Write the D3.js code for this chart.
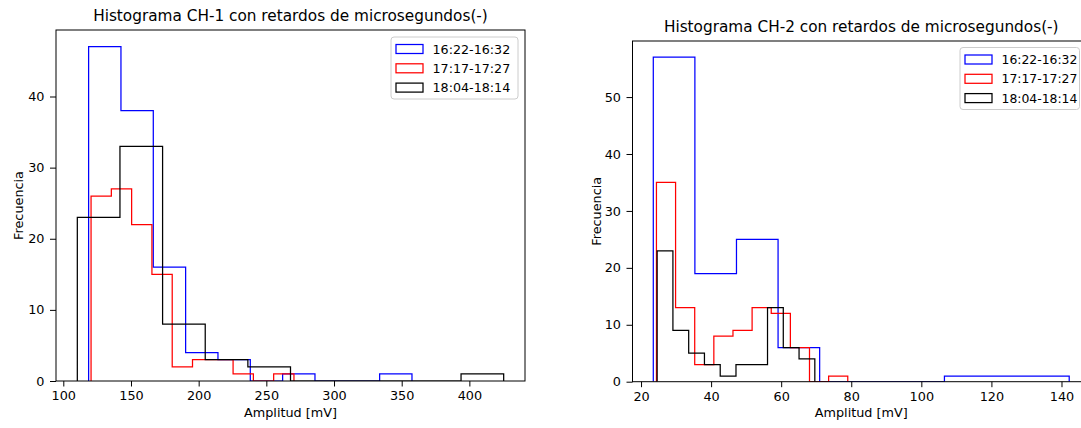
<!DOCTYPE html>
<html>
<head>
<meta charset="utf-8">
<script src="https://cdn.jsdelivr.net/npm/d3@7"></script>
<style>
  body { margin: 0; background: #fff; }
  svg { display: block; font-family: "DejaVu Sans", sans-serif; }
</style>
</head>
<body>
<svg id="chart" width="1081" height="428"></svg>
<script>
const seriesNames = ["16:22-16:32", "17:17-17:27", "18:04-18:14"]
const seriesColors = ["blue", "red", "black"]

// CH-1: bin range (min, max) and 10 bin counts per series
const ch1Ranges = [[118.7, 357.6], [120.5, 270.4], [110.35, 425.35]]
const ch1Counts = [
    [47, 38, 16, 4, 3, 0, 1, 0, 0, 1],
    [26, 27, 22, 15, 2, 3, 3, 1, 0, 1],
    [23, 33, 8, 3, 2, 0, 0, 0, 0, 1]
]
const ch1XTicks = [100, 150, 200, 250, 300, 350, 400]
const ch1YTicks = [0, 10, 20, 30, 40]

// CH-2
const ch2Ranges = [[23.5, 142.2], [24.4, 79.0], [24.6, 69.6]]
const ch2Counts = [
    [57, 19, 25, 6, 0, 0, 0, 1, 1, 1],
    [35, 13, 3, 8, 9, 13, 12, 6, 0, 1],
    [23, 9, 5, 3, 1, 3, 3, 13, 6, 4]
]
const ch2XTicks = [20, 40, 60, 80, 100, 120, 140]
const ch2YTicks = [0, 10, 20, 30, 40, 50]

const svg = d3.select("#chart")
const small = 12.8

function binEdges(range, n) {
    const step = (range[1] - range[0]) / n
    return d3.range(n + 1).map(i => range[0] + i * step)
}

function drawPanel(p) {
    const lo = d3.min(p.ranges, r => r[0])
    const hi = d3.max(p.ranges, r => r[1])
    const pad = (hi - lo) * 0.05
    const ymax = d3.max(p.counts, c => d3.max(c)) * 1.05

    const x = d3.scaleLinear().domain([lo - pad, hi + pad]).range([p.left, p.right])
    const y = d3.scaleLinear().domain([0, ymax]).range([p.bottom, p.top])

    const g = svg.append("g")
    const clipId = "clip" + p.id
    g.append("clipPath").attr("id", clipId)
        .append("rect")
        .attr("x", p.left).attr("y", p.top)
        .attr("width", p.right - p.left).attr("height", p.bottom - p.top)

    const line = d3.line().x(d => x(d[0])).y(d => y(d[1]))

    p.counts.forEach((counts, si) => {
        const edges = binEdges(p.ranges[si], counts.length)
        const pts = [[edges[0], 0]]
        counts.forEach((c, i) => {
            pts.push([edges[i], c])
            pts.push([edges[i + 1], c])
        })
        pts.push([edges[edges.length - 1], 0])
        g.append("path")
            .attr("clip-path", `url(#${clipId})`)
            .attr("d", line(pts))
            .attr("fill", "none")
            .attr("stroke", seriesColors[si])
            .attr("stroke-width", 1.25)
    })

    // axes
    const xAxis = g.append("g")
        .attr("transform", `translate(0,${p.bottom})`)
        .call(d3.axisBottom(x).tickValues(p.xTicks).tickSize(5.5).tickPadding(4.5).tickFormat(d3.format("d")))
    const yAxis = g.append("g")
        .attr("transform", `translate(${p.left},0)`)
        .call(d3.axisLeft(y).tickValues(p.yTicks).tickSize(6).tickPadding(5.5).tickFormat(d3.format("d")))
    ;[xAxis, yAxis].forEach(a => {
        a.select(".domain").remove()
        a.selectAll("text").attr("font-size", small).attr("fill", "#000").attr("font-family", "DejaVu Sans")
        a.selectAll("line").attr("stroke", "#000").attr("stroke-width", 1)
    })

    // frame
    g.append("rect")
        .attr("x", p.left).attr("y", p.top)
        .attr("width", p.right - p.left).attr("height", p.bottom - p.top)
        .attr("fill", "none").attr("stroke", "#000").attr("stroke-width", 1)

    g.append("text")
        .attr("x", (p.left + p.right) / 2).attr("y", p.top - 9)
        .attr("text-anchor", "middle").attr("font-size", 15.3)
        .text(p.title)

    g.append("text")
        .attr("x", (p.left + p.right) / 2).attr("y", 417)
        .attr("text-anchor", "middle").attr("font-size", small)
        .text("Amplitud [mV]")

    g.append("text")
        .attr("transform", `translate(${p.ylabelX},${(p.top + p.bottom) / 2}) rotate(-90)`)
        .attr("text-anchor", "middle").attr("font-size", small)
        .text("Frecuencia")

    // legend
    const lg = g.append("g").attr("transform", `translate(${p.legend[0]},${p.legend[1]})`)
    lg.append("rect")
        .attr("width", p.legend[2]).attr("height", 62).attr("rx", 3)
        .attr("fill", "#fff").attr("fill-opacity", 0.8)
        .attr("stroke", "#ccc")
    seriesNames.forEach((name, i) => {
        const row = lg.append("g").attr("transform", `translate(0,${12 + i * 19.3})`)
        row.append("rect")
            .attr("x", 5).attr("y", -4.5).attr("width", 27).attr("height", 9)
            .attr("fill", "none").attr("stroke", seriesColors[i]).attr("stroke-width", 1.25)
        row.append("text")
            .attr("x", 41.5).attr("y", 4.6).attr("font-size", p.legend[3])
            .text(name)
    })
}

drawPanel({
    id: 1, left: 56, right: 525, top: 30, bottom: 381,
    ranges: ch1Ranges, counts: ch1Counts, xTicks: ch1XTicks, yTicks: ch1YTicks,
    title: "Histograma CH-1 con retardos de microsegundos(-)",
    ylabelX: 22.5, legend: [391, 37, 127, 12.7]
})

drawPanel({
    id: 2, left: 632.5, right: 1090, top: 41, bottom: 381.7,
    ranges: ch2Ranges, counts: ch2Counts, xTicks: ch2XTicks, yTicks: ch2YTicks,
    title: "Histograma CH-2 con retardos de microsegundos(-)",
    ylabelX: 600.5, legend: [960, 47.5, 119.5, 12.4]
})
</script>
</body>
</html>
